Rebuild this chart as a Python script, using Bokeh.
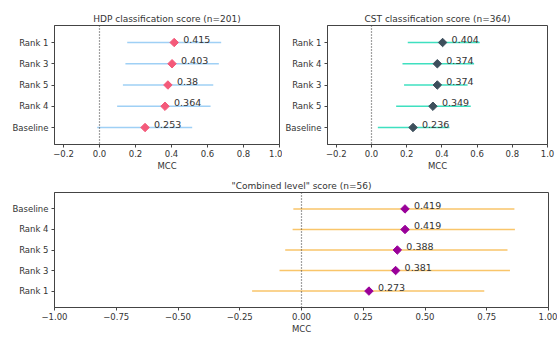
import math
from bokeh.plotting import figure
from bokeh.layouts import column, row
from bokeh.models import FactorRange, Span, ColumnDataSource, FixedTicker
from bokeh.embed import file_html
from bokeh.resources import INLINE
from bokeh.core.properties import value

# ---- data ----
hdp_cats = ["Rank 1", "Rank 3", "Rank 5", "Rank 4", "Baseline"]
hdp_vals = [0.415, 0.403, 0.38, 0.364, 0.253]
hdp_lo = [0.154, 0.144, 0.130, 0.098, -0.013]
hdp_hi = [0.676, 0.663, 0.632, 0.617, 0.515]

cst_cats = ["Rank 1", "Rank 4", "Rank 3", "Rank 5", "Baseline"]
cst_vals = [0.404, 0.374, 0.374, 0.349, 0.236]
cst_lo = [0.206, 0.176, 0.185, 0.140, 0.036]
cst_hi = [0.615, 0.583, 0.546, 0.564, 0.443]

comb_cats = ["Baseline", "Rank 4", "Rank 5", "Rank 3", "Rank 1"]
comb_vals = [0.419, 0.419, 0.388, 0.381, 0.273]
comb_lo = [-0.033, -0.036, -0.066, -0.089, -0.200]
comb_hi = [0.862, 0.864, 0.834, 0.844, 0.740]

FONT = "DejaVu Sans"
TXT = "#333333"


def make(title, cats, vals, lo, hi, bar_color, mk_color, x_range, ticks,
         width, height, bl, br, bt, bb, fmt):
    p = figure(width=width, height=height, output_backend="svg",
               toolbar_location=None, x_range=x_range,
               y_range=FactorRange(*list(reversed(cats)), range_padding=0.12),
               min_border_left=bl, min_border_right=br,
               min_border_top=bt, min_border_bottom=bb)
    p.title.text = title
    p.title.align = "center"
    p.title.text_font = FONT
    p.title.text_font_size = "9px"
    p.title.text_font_style = "normal"
    p.title.text_color = TXT
    p.title.standoff = 4
    p.grid.visible = False
    p.outline_line_color = "#444444"
    p.outline_line_width = 1
    p.background_fill_color = "white"
    p.border_fill_color = "white"
    for ax in (p.xaxis, p.yaxis):
        ax.axis_line_color = "#444444"
        ax.major_tick_line_color = "#444444"
        ax.major_tick_out = 3
        ax.major_tick_in = 0
        ax.minor_tick_line_color = None
        ax.major_label_text_font = FONT
        ax.major_label_text_font_size = "8.5px"
        ax.major_label_text_color = TXT
        ax.major_label_standoff = 3
    p.xaxis.ticker = FixedTicker(ticks=ticks)
    p.xaxis.major_label_overrides = {t: fmt(t) for t in ticks}
    p.xaxis.major_label_standoff = 2
    p.xaxis.axis_label = "MCC"
    p.xaxis.axis_label_text_font = FONT
    p.xaxis.axis_label_text_font_size = "8.5px"
    p.xaxis.axis_label_text_font_style = "normal"
    p.xaxis.axis_label_text_color = TXT
    p.xaxis.axis_label_standoff = 1

    src = ColumnDataSource(dict(cat=cats, val=vals, lo=lo, hi=hi,
                                lab=[("%.3f" % v).rstrip("0") for v in vals]))
    p.segment(x0="lo", x1="hi", y0="cat", y1="cat", source=src,
              line_color=bar_color, line_width=1.5)
    p.add_layout(Span(location=0, dimension="height", line_color="#444444",
                      line_dash="1 2", line_width=1.2))
    p.scatter(x="val", y="cat", source=src, marker="square", size=6,
              angle=math.pi / 4,
              fill_color=mk_color, line_color=mk_color)
    p.text(x="val", y="cat", text="lab", source=src, x_offset=9, y_offset=0,
           text_font=value(FONT), text_font_size="9.5px", text_color=TXT,
           text_baseline="bottom", text_align="left")
    return p


def f1(t):
    return ("%.1f" % t).replace("-", "\u2212")


def f2(t):
    return ("%.2f" % t).replace("-", "\u2212")


small_ticks = [-0.2, 0.0, 0.2, 0.4, 0.6, 0.8, 1.0]
p1 = make("HDP classification score (n=201)", hdp_cats, hdp_vals, hdp_lo, hdp_hi,
          "#9fd0f5", "#f45a7a", (-0.25, 1.0), small_ticks,
          282, 176, 54, 3, 25, 32, f1)
p2 = make("CST classification score (n=364)", cst_cats, cst_vals, cst_lo, cst_hi,
          "#3fe0c0", "#3d4f5c", (-0.25, 1.0), small_ticks,
          275, 176, 42, 10, 25, 32, f1)
p3 = make("\"Combined level\" score (n=56)", comb_cats, comb_vals, comb_lo, comb_hi,
          "#f9c56a", "#990099", (-1.0, 1.0),
          [-1.0, -0.75, -0.5, -0.25, 0.0, 0.25, 0.5, 0.75, 1.0],
          557, 160, 54, 9, 16, 28, f2)

layout = column(row(p1, p2, spacing=0), p3, spacing=0)
open("out.html", "w").write(file_html(layout, INLINE))
